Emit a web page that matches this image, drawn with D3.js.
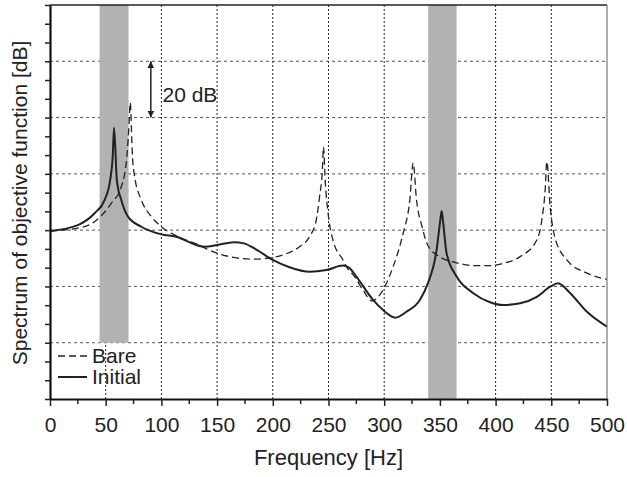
<!DOCTYPE html>
<html lang="en">
<head>
<meta charset="utf-8">
<title>Spectrum of objective function</title>
<script src="https://d3js.org/d3.v7.min.js"></script>
<style>
  body { margin: 0; background: #fff; }
  svg text { font-family: "Liberation Sans", Arial, sans-serif; fill: #222; }
</style>
</head>
<body>
<svg width="627" height="477"></svg>
<script>
// frequency [Hz] / level [dB]
const bareHz = [0, 25, 40, 55, 64, 69, 71, 72, 74, 76, 82, 91, 100, 115, 130, 150, 165, 180, 195, 209, 224, 233, 239, 242, 244.5, 245.5, 247, 250, 254, 263, 268, 272, 281, 289, 296, 308, 317, 323, 326, 329, 334, 339, 350, 365, 380, 395, 407, 422, 437, 441.5, 444.5, 446, 449, 453, 464, 482, 500];
const bareDb = [59.7, 60.7, 63.0, 69.5, 75.4, 86.1, 98.0, 105.3, 86.1, 79.0, 70.7, 64.8, 61.2, 57.7, 55.3, 51.8, 50.3, 49.7, 50.0, 51.2, 54.1, 57.7, 63.6, 71.9, 81.4, 89.6, 77.8, 64.8, 56.5, 49.4, 45.8, 44.2, 38.7, 34.8, 37.0, 47.0, 58.9, 70.7, 83.9, 70.7, 61.2, 54.7, 50.5, 48.4, 47.4, 47.4, 48.2, 50.6, 56.5, 63.6, 74.3, 84.3, 68.3, 57.7, 49.4, 44.7, 42.5];

const initHz = [0, 25, 40, 49, 54, 56.3, 57.5, 60, 64, 70, 82, 100, 115, 124, 139, 150, 165, 174, 186, 200, 215, 233, 248, 263, 268, 275, 290, 299, 310, 320, 332, 339, 347, 350, 351.6, 353, 356, 365, 380, 395, 407, 422, 437, 449, 456, 467, 482, 500];
const initDb = [59.7, 61.8, 66.0, 70.7, 77.8, 86.1, 96.4, 77.8, 70.7, 64.8, 61.2, 58.5, 57.5, 55.9, 54.1, 54.7, 55.7, 55.3, 52.9, 49.4, 46.8, 45.2, 45.8, 47.4, 46.8, 43.5, 35.2, 31.6, 28.9, 31.0, 35.2, 40.9, 52.9, 62.4, 66.8, 62.4, 51.8, 43.5, 37.6, 34.4, 33.4, 34.0, 36.3, 39.9, 41.1, 37.6, 31.0, 25.7];

const bands = [[44.5, 70.5, 20, 140], [339.5, 365, 0, 140]];
const xTicks = d3.range(0, 501, 50);
const gridDb = [20, 40, 60, 80, 100, 120];

const svg = d3.select("svg");
const m = { left: 50, right: 607, top: 5, bottom: 399 };

const x = d3.scaleLinear().domain([0, 500]).range([m.left, m.right]);
const y = d3.scaleLinear().domain([0, 140]).range([m.bottom, m.top]);

// grid
svg.append("g").selectAll("line")
  .data(xTicks.slice(1, -1))
  .join("line")
  .attr("x1", d => x(d)).attr("x2", d => x(d))
  .attr("y1", m.top).attr("y2", m.bottom)
  .attr("stroke", "#222").attr("stroke-width", 1).attr("stroke-dasharray", "2,2");

svg.append("g").selectAll("line")
  .data(gridDb)
  .join("line")
  .attr("x1", m.left).attr("x2", m.right)
  .attr("y1", d => y(d)).attr("y2", d => y(d))
  .attr("stroke", "#555").attr("stroke-width", 1).attr("stroke-dasharray", "3,3");

// shaded bands
svg.append("g").selectAll("rect")
  .data(bands)
  .join("rect")
  .attr("x", d => x(d[0]))
  .attr("width", d => x(d[1]) - x(d[0]))
  .attr("y", d => y(d[3]))
  .attr("height", d => y(d[2]) - y(d[3]))
  .attr("fill", "#b2b2b5");

// curves
const line = d3.line()
  .x(d => x(d[0]))
  .y(d => y(d[1]))
  .curve(d3.curveMonotoneX);

svg.append("path")
  .datum(d3.zip(bareHz, bareDb))
  .attr("d", line)
  .attr("fill", "none")
  .attr("stroke", "#222")
  .attr("stroke-width", 1.3)
  .attr("stroke-dasharray", "7,4");

svg.append("path")
  .datum(d3.zip(initHz, initDb))
  .attr("d", line)
  .attr("fill", "none")
  .attr("stroke", "#222")
  .attr("stroke-width", 2);

// frame
svg.append("line").attr("x1", m.left).attr("x2", m.right).attr("y1", m.top).attr("y2", m.top)
  .attr("stroke", "#222").attr("stroke-width", 1.5);
svg.append("line").attr("x1", m.right).attr("x2", m.right).attr("y1", m.top).attr("y2", m.bottom)
  .attr("stroke", "#777").attr("stroke-width", 1.2);

// axes
const xAxis = d3.axisBottom(x).tickValues(xTicks).tickSize(7).tickSizeOuter(0).tickPadding(11);
const gx = svg.append("g").attr("transform", `translate(0,${m.bottom})`).call(xAxis);
gx.selectAll(".tick text").attr("font-size", 21).attr("font-family", "Liberation Sans, Arial, sans-serif").attr("fill", "#222");
gx.append("g").selectAll("line")
  .data(d3.range(25, 500, 50))
  .join("line")
  .attr("x1", d => x(d)).attr("x2", d => x(d))
  .attr("y1", 0).attr("y2", 5)
  .attr("stroke", "#222").attr("stroke-width", 1.5);

const yAxis = d3.axisLeft(y).tickValues(d3.range(0, 141, 20 / 3)).tickSize(5).tickSizeOuter(0).tickFormat("");
svg.append("g").attr("transform", `translate(${m.left},0)`).call(yAxis);

svg.selectAll(".domain").attr("stroke", "#111").attr("stroke-width", 2.2);
svg.selectAll(".tick line").attr("stroke", "#222").attr("stroke-width", 1.5);

// labels
svg.append("text")
  .attr("x", (m.left + m.right) / 2).attr("y", 465)
  .attr("text-anchor", "middle").attr("font-size", 22)
  .text("Frequency [Hz]");

svg.append("text")
  .attr("transform", `translate(27,${(m.top + m.bottom) / 2 + 1}) rotate(-90)`)
  .attr("text-anchor", "middle").attr("font-size", 21)
  .text("Spectrum of objective function [dB]");

// 20 dB scale arrow
const defs = svg.append("defs");
defs.append("marker")
  .attr("id", "ah").attr("viewBox", "0 0 10 10")
  .attr("refX", 10).attr("refY", 5)
  .attr("markerWidth", 7).attr("markerHeight", 7)
  .attr("markerUnits", "userSpaceOnUse")
  .attr("orient", "auto-start-reverse")
  .append("path").attr("d", "M0,0L10,5L0,10z").attr("fill", "#222");

svg.append("line")
  .attr("x1", x(90.5)).attr("x2", x(90.5))
  .attr("y1", y(120)).attr("y2", y(100))
  .attr("stroke", "#222").attr("stroke-width", 1.5)
  .attr("marker-start", "url(#ah)").attr("marker-end", "url(#ah)");

svg.append("text")
  .attr("x", x(101)).attr("y", y(105.5))
  .attr("font-size", 21)
  .text("20 dB");

// legend
const legend = [["Bare", "7,4", 1.3], ["Initial", null, 2]];
const lg = svg.append("g").selectAll("g")
  .data(legend)
  .join("g")
  .attr("transform", (d, i) => `translate(58,${356 + i * 21})`);
lg.append("line")
  .attr("x1", 0).attr("x2", 29)
  .attr("stroke", "#222")
  .attr("stroke-width", d => d[2])
  .attr("stroke-dasharray", d => d[1]);
lg.append("text")
  .attr("x", 34).attr("y", 7)
  .attr("font-size", 21)
  .text(d => d[0]);
</script>
</body>
</html>
